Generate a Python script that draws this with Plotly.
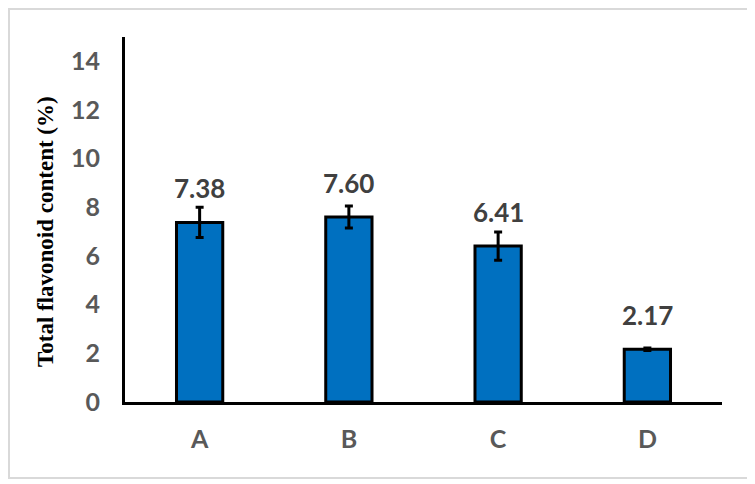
import plotly.graph_objects as go

# values
samples = ["A", "B", "C", "D"]
flavonoid = [7.38, 7.60, 6.41, 2.17]
sd = [0.62, 0.45, 0.58, 0.05]
value_labels = ["7.38", "7.60", "6.41", "2.17"]
y_ticks = [0, 2, 4, 6, 8, 10, 12, 14]

# page body has an 8px margin, so figure coords = screen coords - 8
OFF = 8
W, H = 755 - OFF, 484 - OFF
L, T = 125 - OFF, 37 - OFF
R = W - (722 - OFF)
B = H - (402 - OFF)
pw, ph = W - L - R, H - T - B


def px(xs):
    return (xs - OFF - L) / pw


def py(ys):
    return (H - B - (ys - OFF)) / ph


fig = go.Figure()

fig.add_trace(go.Bar(
    x=samples,
    y=flavonoid,
    marker=dict(color="#0070C0", line=dict(color="black", width=3)),
    error_y=dict(type="data", array=sd, visible=True,
                 color="black", thickness=3, width=4),
    width=0.31,
    showlegend=False,
))

# value labels sit above the bar tops (Excel "outside end")
for s, v, lab in zip(samples, flavonoid, value_labels):
    fig.add_annotation(
        x=s, y=v, text=lab, showarrow=False,
        yanchor="bottom", yshift=16,
        font=dict(family="Lato", size=26, color="#404040", weight="bold"),
    )

# y-axis title
fig.add_annotation(
    xref="paper", yref="paper",
    x=px(45), y=py(232),
    text="Total flavonoid content (%)", textangle=-90,
    showarrow=False, xanchor="center", yanchor="middle",
    font=dict(family="Liberation Serif", size=23, color="black", weight="bold"),
)

# light grey frame round the whole chart
fig.add_shape(
    type="rect", xref="paper", yref="paper",
    x0=px(OFF + 1), x1=px(751),
    y0=py(478), y1=py(OFF + 1),
    line=dict(color="#d9d9d9", width=2),
    layer="below",
)

fig.update_xaxes(
    showline=True, linecolor="black", linewidth=3,
    ticks="", ticklabelstandoff=13,
    tickfont=dict(family="Lato", size=25, color="#595959", weight="bold"),
    showgrid=False, zeroline=False,
)
fig.update_yaxes(
    range=[0, 15], tickvals=y_ticks,
    showline=True, linecolor="black", linewidth=3,
    ticks="", ticklabelstandoff=17,
    tickfont=dict(family="Lato", size=25, color="#595959", weight="bold"),
    showgrid=False, zeroline=False,
)

fig.update_layout(
    width=W, height=H,
    margin=dict(l=L, r=R, t=T, b=B),
    plot_bgcolor="white", paper_bgcolor="white",
)

fig.write_html("out.html")
